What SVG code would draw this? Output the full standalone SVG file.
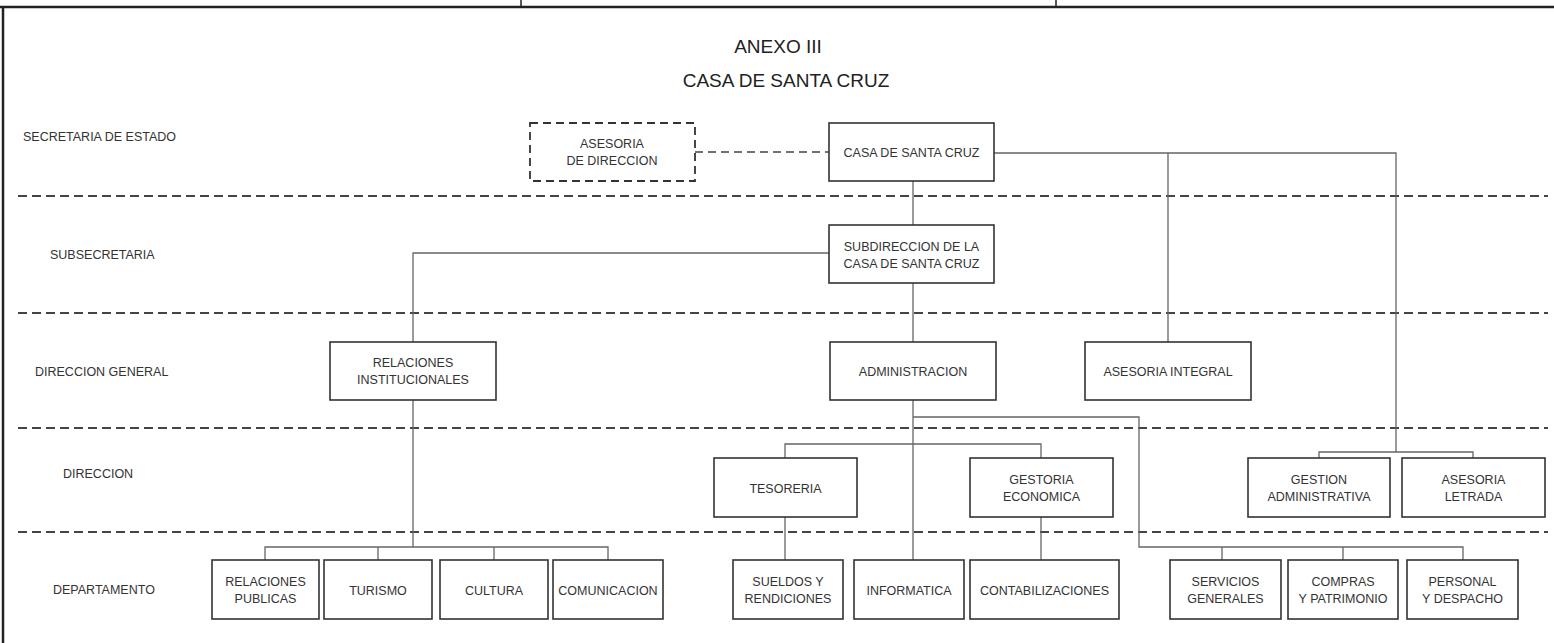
<svg xmlns="http://www.w3.org/2000/svg" width="1554" height="643" viewBox="0 0 1554 643">
<style>
text{font-family:"Liberation Sans",Arial,sans-serif;fill:#333;font-size:12.5px;}
.t{text-anchor:middle;}
.lvl{font-size:12.5px;}
.title{font-size:19px;text-anchor:middle;fill:#222;}
.box{fill:#fff;stroke:#333;stroke-width:1.6;}
.dbox{fill:#fff;stroke:#333;stroke-width:1.8;stroke-dasharray:8 5;}
.sep{stroke:#444;stroke-width:2;stroke-dasharray:9 5;fill:none;}
.con{stroke:#666;stroke-width:1.3;fill:none;}
.dcon{stroke:#444;stroke-width:1.6;stroke-dasharray:8 5;fill:none;}
.frame{stroke:#222;fill:none;}
</style>
<rect x="0" y="0" width="1554" height="643" fill="#fff"/>
<g id="frame">
<line class="frame" x1="0" y1="7" x2="1554" y2="7" stroke-width="2.5"/>
<line class="frame" x1="521" y1="0" x2="521" y2="7" stroke-width="1.5"/>
<line class="frame" x1="1056" y1="0" x2="1056" y2="7" stroke-width="1.5"/>
<line class="frame" x1="3" y1="7" x2="3" y2="643" stroke-width="2.5"/>
</g>
<g id="titles">
<text class="title" x="778" y="53">ANEXO III</text>
<text class="title" x="786" y="87">CASA DE SANTA CRUZ</text>
</g>
<g id="levels">
<line class="sep" x1="18" y1="196" x2="1548" y2="196"/>
<line class="sep" x1="18" y1="313" x2="1548" y2="313"/>
<line class="sep" x1="18" y1="428" x2="1548" y2="428"/>
<line class="sep" x1="18" y1="532" x2="1548" y2="532"/>
<text class="lvl" x="23" y="141">SECRETARIA DE ESTADO</text>
<text class="lvl" x="50" y="259">SUBSECRETARIA</text>
<text class="lvl" x="35" y="376">DIRECCION GENERAL</text>
<text class="lvl" x="63" y="478">DIRECCION</text>
<text class="lvl" x="53" y="594">DEPARTAMENTO</text>
</g>
<g id="connectors">
<line class="dcon" x1="695" y1="152" x2="829" y2="152"/>
<path class="con" d="M994 153 H1396 V452 M1168 153 V342 M1319 458 V452 H1473 V458"/>
<path class="con" d="M913 181 V225"/>
<path class="con" d="M829 253 H413 V547 M265 560 V547 H608 V560 M378 547 V560 M494 547 V560"/>
<path class="con" d="M913 283 V342"/>
<path class="con" d="M913 400 V560 M913 417 H1139 V547 H1463 V560 M1222 547 V560 M1343 547 V560"/>
<path class="con" d="M785 458 V444 H1041 V458"/>
<path class="con" d="M785 517 V560"/>
<path class="con" d="M1041 517 V560"/>
</g>
<g id="asesoria-direccion">
<rect class="dbox" x="530" y="123" width="165" height="58"/>
<text class="t" x="612" y="148">ASESORIA</text>
<text class="t" x="612" y="165">DE DIRECCION</text>
</g>
<g id="casa-santa-cruz">
<rect class="box" x="829" y="123" width="165" height="58"/>
<text class="t" x="911.5" y="157">CASA DE SANTA CRUZ</text>
</g>
<g id="subdireccion">
<rect class="box" x="829" y="225" width="165" height="58"/>
<text class="t" x="911.5" y="251">SUBDIRECCION DE LA</text>
<text class="t" x="911.5" y="268">CASA DE SANTA CRUZ</text>
</g>
<g id="relaciones-institucionales">
<rect class="box" x="330" y="342" width="166" height="58"/>
<text class="t" x="413" y="367">RELACIONES</text>
<text class="t" x="413" y="384">INSTITUCIONALES</text>
</g>
<g id="administracion">
<rect class="box" x="830" y="342" width="166" height="58"/>
<text class="t" x="913" y="376">ADMINISTRACION</text>
</g>
<g id="asesoria-integral">
<rect class="box" x="1085" y="342" width="166" height="58"/>
<text class="t" x="1168" y="376">ASESORIA INTEGRAL</text>
</g>
<g id="tesoreria">
<rect class="box" x="714" y="458" width="143" height="59"/>
<text class="t" x="785.5" y="492.5">TESORERIA</text>
</g>
<g id="gestoria-economica">
<rect class="box" x="970" y="458" width="143" height="59"/>
<text class="t" x="1041.5" y="484">GESTORIA</text>
<text class="t" x="1041.5" y="501">ECONOMICA</text>
</g>
<g id="gestion-administrativa">
<rect class="box" x="1248" y="458" width="142" height="59"/>
<text class="t" x="1319" y="484">GESTION</text>
<text class="t" x="1319" y="501">ADMINISTRATIVA</text>
</g>
<g id="asesoria-letrada">
<rect class="box" x="1402" y="458" width="143" height="59"/>
<text class="t" x="1473.5" y="484">ASESORIA</text>
<text class="t" x="1473.5" y="501">LETRADA</text>
</g>
<g id="relaciones-publicas">
<rect class="box" x="212" y="560" width="107" height="59"/>
<text class="t" x="265.5" y="586">RELACIONES</text>
<text class="t" x="265.5" y="603">PUBLICAS</text>
</g>
<g id="turismo">
<rect class="box" x="324" y="560" width="108" height="59"/>
<text class="t" x="378" y="594.5">TURISMO</text>
</g>
<g id="cultura">
<rect class="box" x="440" y="560" width="108" height="59"/>
<text class="t" x="494" y="594.5">CULTURA</text>
</g>
<g id="comunicacion">
<rect class="box" x="553" y="560" width="110" height="59"/>
<text class="t" x="608" y="594.5">COMUNICACION</text>
</g>
<g id="sueldos-rendiciones">
<rect class="box" x="733" y="560" width="110" height="59"/>
<text class="t" x="788" y="586">SUELDOS Y</text>
<text class="t" x="788" y="603">RENDICIONES</text>
</g>
<g id="informatica">
<rect class="box" x="854" y="560" width="110" height="59"/>
<text class="t" x="909" y="594.5">INFORMATICA</text>
</g>
<g id="contabilizaciones">
<rect class="box" x="970" y="560" width="149" height="59"/>
<text class="t" x="1044.5" y="594.5">CONTABILIZACIONES</text>
</g>
<g id="servicios-generales">
<rect class="box" x="1170" y="560" width="111" height="59"/>
<text class="t" x="1225.5" y="586">SERVICIOS</text>
<text class="t" x="1225.5" y="603">GENERALES</text>
</g>
<g id="compras-patrimonio">
<rect class="box" x="1288" y="560" width="110" height="59"/>
<text class="t" x="1343" y="586">COMPRAS</text>
<text class="t" x="1343" y="603">Y PATRIMONIO</text>
</g>
<g id="personal-despacho">
<rect class="box" x="1407" y="560" width="111" height="59"/>
<text class="t" x="1462.5" y="586">PERSONAL</text>
<text class="t" x="1462.5" y="603">Y DESPACHO</text>
</g>
</svg>
